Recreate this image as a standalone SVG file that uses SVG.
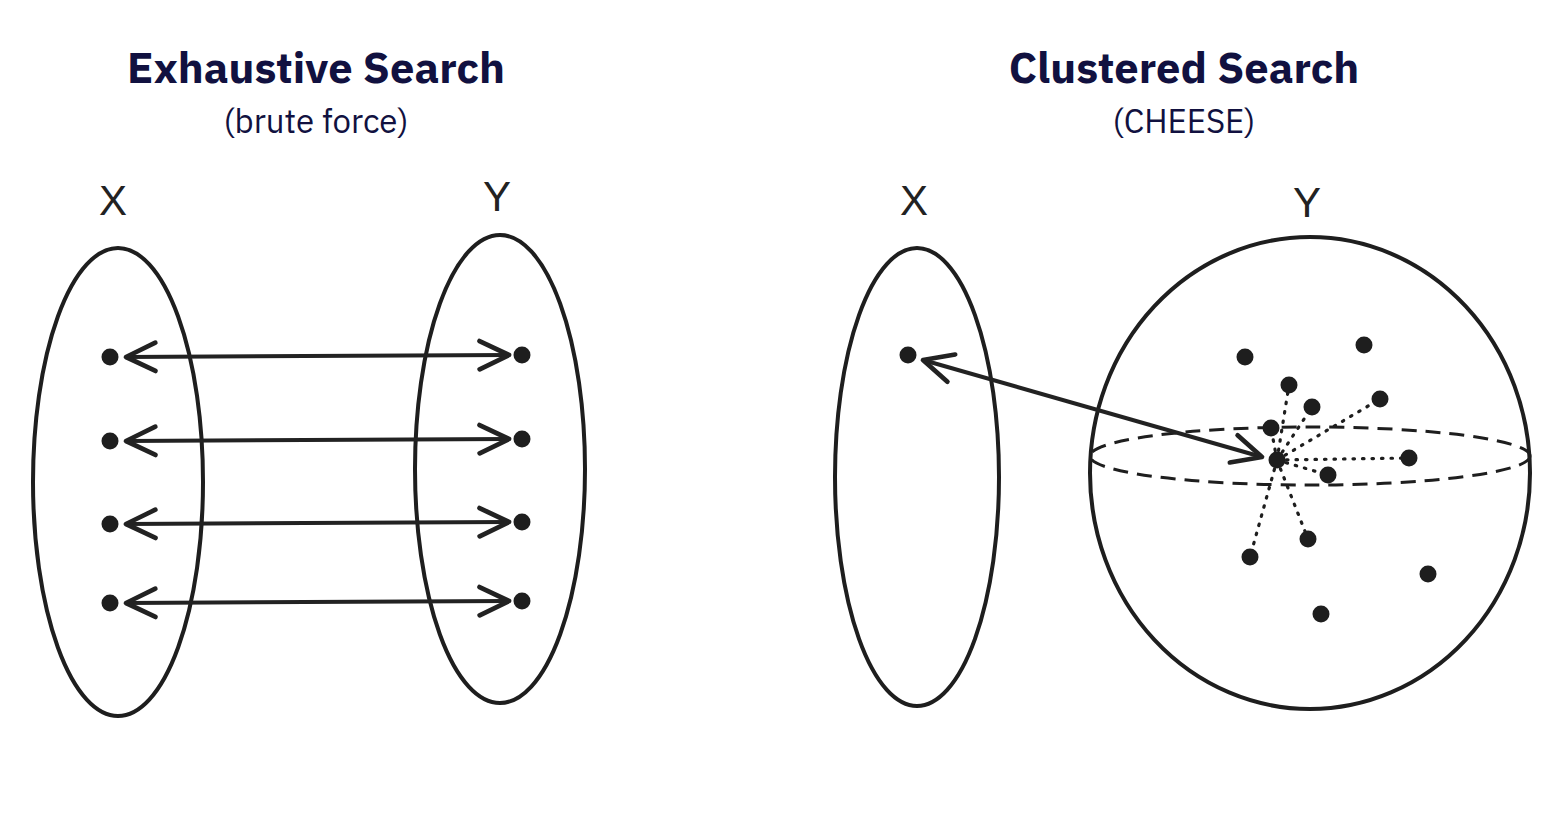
<svg xmlns="http://www.w3.org/2000/svg" width="1560" height="832" viewBox="0 0 1560 832">
<style>
.title{font-family:"IBM Plex Sans","Noto Sans",sans-serif;font-weight:700;font-size:43.5px;fill:#111140;text-anchor:middle}
.sub{font-family:"IBM Plex Sans","Noto Sans",sans-serif;font-size:33px;fill:#111140;text-anchor:middle}
.lab{font-family:"Liberation Sans",Arial,sans-serif;font-size:42px;fill:#222;text-anchor:middle}
.shape{fill:none;stroke:#1e1e1e;stroke-width:4}
.arrow{fill:none;stroke:#222;stroke-width:4;marker-start:url(#ah);marker-end:url(#ah)}
.dot{fill:#1e1e1e}
.dash{fill:none;stroke:#1e1e1e;stroke-width:3;stroke-dasharray:15 9}
.dotted{fill:none;stroke:#1e1e1e;stroke-width:3.2;stroke-dasharray:1.5 8;stroke-linecap:round}
</style>
<defs>
<marker id="ah" markerUnits="userSpaceOnUse" markerWidth="40" markerHeight="40" viewBox="-30 -15 34 30" refX="0" refY="0" orient="auto-start-reverse">
<path d="M-25,-12 L0,0 L-25,12" fill="none" stroke="#222" stroke-width="4" stroke-linecap="round" stroke-linejoin="round"/>
</marker>
</defs>
<rect width="1560" height="832" fill="#fff"/>

<g id="title-left">
<text class="title" x="316" y="83">Exhaustive Search</text>
<text class="sub" x="316" y="133">(brute force)</text>
</g>
<g id="title-right">
<text class="title" x="1184" y="83">Clustered Search</text>
<text class="sub" x="1184" y="133">(CHEESE)</text>
</g>

<g id="left-X">
<text class="lab" x="113" y="215">X</text>
<ellipse class="shape" cx="118" cy="482" rx="85" ry="234"/>
<circle class="dot" cx="110" cy="357" r="8.5"/>
<circle class="dot" cx="110" cy="441" r="8.5"/>
<circle class="dot" cx="110" cy="524" r="8.5"/>
<circle class="dot" cx="110" cy="603" r="8.5"/>
</g>
<g id="left-Y">
<text class="lab" x="497" y="211">Y</text>
<ellipse class="shape" cx="500" cy="469" rx="85" ry="234"/>
<circle class="dot" cx="522" cy="355" r="8.5"/>
<circle class="dot" cx="522" cy="439" r="8.5"/>
<circle class="dot" cx="522" cy="522" r="8.5"/>
<circle class="dot" cx="522" cy="601" r="8.5"/>
</g>

<g id="right-X">
<text class="lab" x="914" y="215">X</text>
<ellipse class="shape" cx="917" cy="477" rx="82" ry="229"/>
<circle class="dot" cx="908" cy="355" r="8.5"/>
</g>
<g id="right-Y">
<text class="lab" x="1307" y="217">Y</text>
<ellipse class="shape" cx="1310" cy="473" rx="220" ry="236"/>
<ellipse class="dash" cx="1310" cy="456" rx="220" ry="29"/>
<g id="dotted-links">
<line class="dotted" x1="1277" y1="460" x2="1289" y2="385"/>
<line class="dotted" x1="1277" y1="460" x2="1312" y2="407"/>
<line class="dotted" x1="1277" y1="460" x2="1380" y2="399"/>
<line class="dotted" x1="1277" y1="460" x2="1271" y2="428"/>
<line class="dotted" x1="1277" y1="460" x2="1409" y2="458"/>
<line class="dotted" x1="1277" y1="460" x2="1328" y2="475"/>
<line class="dotted" x1="1277" y1="460" x2="1308" y2="539"/>
<line class="dotted" x1="1277" y1="460" x2="1250" y2="557"/>
</g>
<circle class="dot" cx="1245" cy="357" r="8.5"/>
<circle class="dot" cx="1364" cy="345" r="8.5"/>
<circle class="dot" cx="1289" cy="385" r="8.5"/>
<circle class="dot" cx="1312" cy="407" r="8.5"/>
<circle class="dot" cx="1380" cy="399" r="8.5"/>
<circle class="dot" cx="1271" cy="428" r="8.5"/>
<circle class="dot" cx="1277" cy="460" r="8.5"/>
<circle class="dot" cx="1409" cy="458" r="8.5"/>
<circle class="dot" cx="1328" cy="475" r="8.5"/>
<circle class="dot" cx="1308" cy="539" r="8.5"/>
<circle class="dot" cx="1250" cy="557" r="8.5"/>
<circle class="dot" cx="1428" cy="574" r="8.5"/>
<circle class="dot" cx="1321" cy="614" r="8.5"/>
</g>

<g id="connectors">
<line class="arrow" x1="126" y1="357" x2="509" y2="355"/>
<line class="arrow" x1="126" y1="441" x2="509" y2="439"/>
<line class="arrow" x1="126" y1="524" x2="509" y2="522"/>
<line class="arrow" x1="126" y1="603" x2="509" y2="601"/>
<line class="arrow" x1="923" y1="360" x2="1262" y2="457"/>
</g>
</svg>
